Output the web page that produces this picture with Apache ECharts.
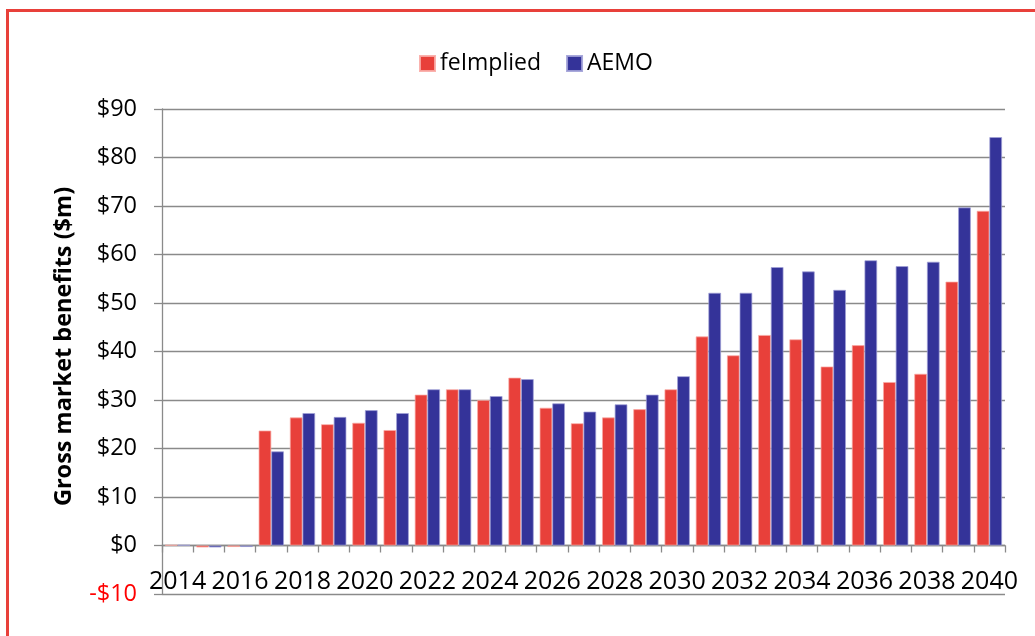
<!DOCTYPE html>
<html>
<head>
<meta charset="utf-8">
<script src="https://cdn.jsdelivr.net/npm/echarts@6/dist/echarts.min.js"></script>
<style>
html,body{margin:0;padding:0;background:#fff;}
#chart{width:1035px;height:636px;}
</style>
</head>
<body>
<div id="chart"></div>
<script>
const categories = ['2014','2015','2016','2017','2018','2019','2020','2021','2022','2023','2024','2025','2026','2027','2028','2029','2030','2031','2032','2033','2034','2035','2036','2037','2038','2039','2040'];
const feImplied = [0.1,-0.4,-0.3,23.7,26.4,25.0,25.3,23.8,31.1,32.2,30.0,34.6,28.4,25.2,26.4,28.1,32.2,43.1,39.2,43.4,42.5,36.9,41.3,33.7,35.4,54.4,69.0];
const aemo = [0.1,-0.4,-0.3,19.4,27.3,26.5,27.9,27.3,32.2,32.2,30.8,34.3,29.3,27.6,29.1,31.1,34.9,52.1,52.1,57.4,56.5,52.7,58.8,57.6,58.5,69.7,84.2];
const yTicks = [-10,0,10,20,30,40,50,60,70,80,90];

const RED = '#E8403A';
const BLUE = '#343399';
const FONT = '"Open Sans", "Noto Sans", sans-serif';

const GRID_TOP = 109, GRID_BOTTOM = 42, H = 636;
const plotH = H - GRID_TOP - GRID_BOTTOM;
const yMin = yTicks[0], yMax = yTicks[yTicks.length-1];
// shift x-axis up from the bottom (yMin) to the zero line
const zeroOffset = -plotH * (0 - yMin) / (yMax - yMin);

const chart = echarts.init(document.getElementById('chart'), null, {renderer:'canvas'});
chart.setOption({
  animation: false,
  backgroundColor: '#fff',
  graphic: [{
    type: 'rect',
    shape: {x: 7.5, y: 10.5, width: 1200, height: 800},
    style: {fill: 'none', stroke: RED, lineWidth: 3},
    silent: true
  }],
  legend: {
    top: 47,
    left: 414,
    itemWidth: 15,
    itemHeight: 15,
    itemGap: 25,
    icon: 'rect',
    textStyle: {fontFamily: FONT, fontSize: 23, color: '#000'},
    data: ['feImplied','AEMO']
  },
  grid: {left: 162, right: 30, top: GRID_TOP, bottom: GRID_BOTTOM, containLabel: false, outerBoundsMode: 'none'},
  xAxis: {
    type: 'category',
    data: categories,
    boundaryGap: true,
    offset: zeroOffset,
    axisLine: {onZero: false, lineStyle: {color: '#8a8a8a', width: 1.3}},
    axisTick: {show: true, interval: 0, length: 7, lineStyle: {color: '#8a8a8a', width: 1.3}},
    axisLabel: {interval: 1, margin: 24, fontFamily: FONT, fontSize: 25, color: '#000'},
    splitLine: {show: false}
  },
  yAxis: {
    type: 'value',
    min: yMin,
    max: yMax,
    interval: 10,
    name: 'Gross market benefits ($m)',
    nameLocation: 'middle',
    nameRotate: 90,
    nameGap: 86,
    nameTextStyle: {fontFamily: FONT, fontSize: 23.5, fontWeight: 'bold', color: '#000', padding: [0,0,0,10]},
    axisLine: {show: true, lineStyle: {color: '#8a8a8a', width: 1.3}},
    axisTick: {show: true, length: 8, lineStyle: {color: '#8a8a8a', width: 1.3}},
    axisLabel: {
      margin: 25,
      fontFamily: FONT,
      fontSize: 23.5,
      color: function(v){ return Number(v) < 0 ? '#FF0000' : '#000'; },
      formatter: function(v){ return (v < 0 ? '-$' : '$') + Math.abs(v); }
    },
    splitLine: {show: true, lineStyle: {color: '#8a8a8a', width: 1.3}}
  },
  series: [
    {
      name: 'feImplied', type: 'bar', data: feImplied,
      barGap: '0%', barCategoryGap: '19%',
      itemStyle: {color: RED, borderColor: 'rgba(250,170,165,0.9)', borderWidth: 0.8}
    },
    {
      name: 'AEMO', type: 'bar', data: aemo,
      barGap: '0%', barCategoryGap: '19%',
      itemStyle: {color: BLUE, borderColor: 'rgba(160,160,215,0.9)', borderWidth: 0.8}
    }
  ]
});
</script>
</body>
</html>
